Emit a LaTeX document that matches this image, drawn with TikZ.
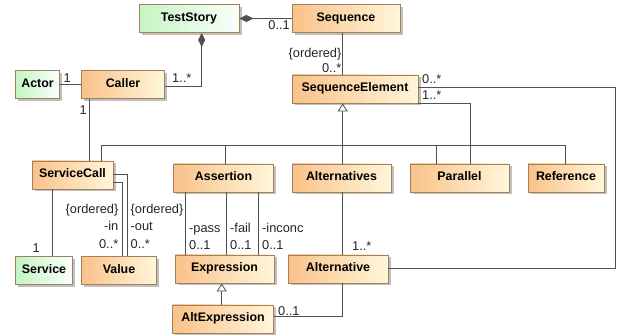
\documentclass[tikz,border=0pt]{standalone}
\usepackage{fontspec}
\setmainfont{Liberation Sans}
\usetikzlibrary{arrows.meta,shadows}
\definecolor{orA}{HTML}{F9C28A}
\definecolor{orB}{HTML}{FFF6DA}
\definecolor{grA}{HTML}{C4F4C4}
\definecolor{grB}{HTML}{FBFFFB}
\definecolor{bord}{HTML}{A3805C}
\definecolor{ln}{HTML}{505050}
\tikzset{
  cls/.style={rectangle, draw=bord, line width=0.9pt, minimum height=28pt, inner sep=0pt,
    text height=9pt, text depth=3.5pt,
    font=\bfseries\fontsize{12.4}{14}\selectfont,
    drop shadow={shadow xshift=2.5pt, shadow yshift=-2.5pt, fill=black!35, opacity=0.7}},
  orcls/.style={cls, left color=orA, right color=orB},
  grcls/.style={cls, left color=grA, right color=grB},
  conn/.style={draw=ln, line width=0.8pt},
  comp/.style={conn, {Diamond[length=14pt,width=7pt,fill=ln]}-},
  gen/.style={conn, -{Triangle[open,length=8pt,width=10pt,fill=white]}},
  lbl/.style={inner sep=0pt, font=\fontsize{12.8}{14}\selectfont, text=black!85},
}
\begin{document}
\begin{tikzpicture}[x=1pt,y=-1pt]
\useasboundingbox[fill=white] (0,0) rectangle (624,336);
% classes
\node[grcls, minimum width=100pt]  (TestStory)   at (189,18.5) {TestStory};
\node[orcls, minimum width=108pt]  (Sequence)    at (346,18.5) {Sequence};
\node[grcls, minimum width=43.5pt] (Actor)       at (37.5,84.5) {Actor};
\node[orcls, minimum width=82.5pt] (Caller)      at (123,84.5) {Caller};
\node[orcls, minimum width=126pt]  (SE)          at (355,89) {SequenceElement};
\node[orcls, minimum width=81pt]   (ServiceCall) at (72.5,175) {ServiceCall};
\node[orcls, minimum width=99.5pt] (Assertion)   at (223.5,178) {Assertion};
\node[orcls, minimum width=99pt]   (Alternatives) at (341.5,178) {Alternatives};
\node[orcls, minimum width=99pt]   (Parallel)    at (459.5,178) {Parallel};
\node[orcls, minimum width=76pt]   (Reference)   at (566,178) {Reference};
\node[grcls, minimum width=56.5pt] (Service)     at (44,270.5) {Service};
\node[orcls, minimum width=74.5pt] (Value)       at (119,270.5) {Value};
\node[orcls, minimum width=99pt]   (Expression)  at (224.5,269) {Expression};
\node[orcls, minimum width=100pt]  (Alternative) at (338,269) {Alternative};
\node[orcls, minimum width=100.5pt] (AltExpression) at (223,319) {AltExpression};
% helper coordinates
\coordinate (xTS) at (201.7,0);
\coordinate (xCS) at (89.3,0);
\coordinate (bus) at (342.7,145);
\coordinate (xSC) at (101.7,0);
\coordinate (xAs) at (225.7,0);
\coordinate (xPa) at (436.7,0);
\coordinate (xRe) at (565.7,0);
\coordinate (xPar) at (470,0);
\coordinate (xR) at (615.3,0);
\coordinate (xSv) at (52.3,0);
\coordinate (xIn) at (122.7,0);
\coordinate (xOut) at (127,0);
\coordinate (xPass) at (185.3,0);
\coordinate (xFail) at (226.7,0);
\coordinate (xInc) at (258.3,0);
\coordinate (xEx) at (221.7,0);
\coordinate (xAE) at (342.3,0);
% connectors
\draw[comp] (TestStory.east) -- (Sequence.west);
\draw[comp] (TestStory.south -| xTS) |- ([yshift=-2pt]Caller.east);
\draw[conn] (Actor.east) -- (Caller.west);
\draw[conn] (Caller.south -| xCS) -- (ServiceCall.north -| xCS);
\draw[conn] (Sequence.south -| bus) -- (SE.north -| bus);
\draw[gen] (bus) -- (SE.south -| bus);
\draw[conn] (ServiceCall.north -| xSC) |- (bus);
\draw[conn] (Assertion.north -| xAs) |- (bus);
\draw[conn] (Alternatives.north -| bus) -- (bus);
\draw[conn] (Parallel.north -| xPa) |- (bus);
\draw[conn] (Reference.north -| xRe) |- (bus);
\draw[conn] ([yshift=0.5pt]SE.south east) -| (Parallel.north -| xPar);
\draw[conn] ([yshift=1.7pt]SE.east) -| ([yshift=0.7pt]Alternative.east -| xR) -- ([yshift=0.7pt]Alternative.east);
\draw[conn] (ServiceCall.south -| xSv) -- (Service.north -| xSv);
\draw[conn] ([yshift=-7pt]ServiceCall.east) -| (Value.north -| xIn);
\draw[conn] ([yshift=1pt]ServiceCall.east) -| (Value.north -| xOut);
\draw[conn] (Assertion.south -| xPass) -- (Expression.north -| xPass);
\draw[conn] (Assertion.south -| xFail) -- (Expression.north -| xFail);
\draw[conn] (Assertion.south -| xInc) -- (Expression.north -| xInc);
\draw[gen] (AltExpression.north -| xEx) -- (Expression.south -| xEx);
\draw[conn] (Alternatives.south -| bus) -- (Alternative.north -| bus);
\draw[conn] ([yshift=2.3pt]AltExpression.east) -| (Alternative.south -| xAE);
% labels
\node[lbl, anchor=base east] (l01) at (290,30) {0..1};
\node[lbl, anchor=base west] (l02) at (172,82.5) {1..*};
\node[lbl, anchor=base west] (l03) at (63.5,82.5) {1};
\node[lbl, anchor=base east] (l04) at (87,115) {1};
\node[lbl, anchor=base east] (l05) at (341.5,57.5) {\{ordered\}};
\node[lbl, anchor=base east] (l06) at (341.5,73) {0..*};
\node[lbl, anchor=base west] (l07) at (422,83.5) {0..*};
\node[lbl, anchor=base west] (l08) at (422,100) {1..*};
\node[lbl, anchor=base east] (l09) at (40,253) {1};
\node[lbl, anchor=base east] (l10) at (118.5,213.5) {\{ordered\}};
\node[lbl, anchor=base east] (l11) at (118.5,231) {-in};
\node[lbl, anchor=base east] (l12) at (118.5,248.5) {0..*};
\node[lbl, anchor=base west] (l13) at (130.5,213.5) {\{ordered\}};
\node[lbl, anchor=base west] (l14) at (130.5,231) {-out};
\node[lbl, anchor=base west] (l15) at (130.5,248.5) {0..*};
\node[lbl, anchor=base west] (l16) at (189,232.5) {-pass};
\node[lbl, anchor=base west] (l17) at (189,250) {0..1};
\node[lbl, anchor=base west] (l18) at (230,232.5) {-fail};
\node[lbl, anchor=base west] (l19) at (230,250) {0..1};
\node[lbl, anchor=base west] (l20) at (262,232.5) {-inconc};
\node[lbl, anchor=base west] (l21) at (262,250) {0..1};
\node[lbl, anchor=base west] (l22) at (352,250.5) {1..*};
\node[lbl, anchor=base west] (l23) at (278,315.5) {0..1};
\end{tikzpicture}
\end{document}
